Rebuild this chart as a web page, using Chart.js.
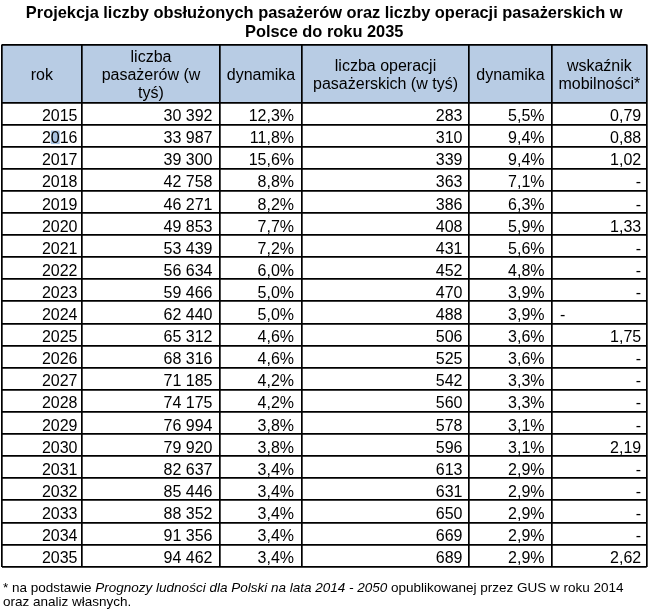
<!DOCTYPE html>
<html><head><meta charset="utf-8">
<script src="https://cdn.jsdelivr.net/npm/chart.js@4.4.1/dist/chart.umd.min.js"></script>
<style>
html,body{margin:0;padding:0;background:#fff;}
#wrap{position:relative;width:650px;height:613px;}
#foot{position:absolute;left:3px;top:581px;font:13.5px "Liberation Sans",Arial,sans-serif;line-height:14px;color:#000;white-space:nowrap;}
</style></head><body>
<div id="wrap"><canvas id="c" width="650" height="613"></canvas>
<div id="foot">* na podstawie <i>Prognozy ludności dla Polski na lata 2014 - 2050</i> opublikowanej przez GUS w roku 2014<br>oraz analiz własnych.</div></div>
<script>
// ---- data ----
const titleLines = ['Projekcja liczby obsłużonych pasażerów oraz liczby operacji pasażerskich w', 'Polsce do roku 2035'];
const headers = [['rok'], ['liczba', 'pasażerów (w', 'tyś)'], ['dynamika'], ['liczba operacji', 'pasażerskich (w tyś)'], ['dynamika'], ['wskaźnik', 'mobilności*']];
const years = [2015, 2016, 2017, 2018, 2019, 2020, 2021, 2022, 2023, 2024, 2025, 2026, 2027, 2028, 2029, 2030, 2031, 2032, 2033, 2034, 2035];
const passengers = [30392, 33987, 39300, 42758, 46271, 49853, 53439, 56634, 59466, 62440, 65312, 68316, 71185, 74175, 76994, 79920, 82637, 85446, 88352, 91356, 94462];
const passengerGrowth = [12.3, 11.8, 15.6, 8.8, 8.2, 7.7, 7.2, 6.0, 5.0, 5.0, 4.6, 4.6, 4.2, 4.2, 3.8, 3.8, 3.4, 3.4, 3.4, 3.4, 3.4];
const operations = [283, 310, 339, 363, 386, 408, 431, 452, 470, 488, 506, 525, 542, 560, 578, 596, 613, 631, 650, 669, 689];
const operationsGrowth = [5.5, 9.4, 9.4, 7.1, 6.3, 5.9, 5.6, 4.8, 3.9, 3.9, 3.6, 3.6, 3.3, 3.3, 3.1, 3.1, 2.9, 2.9, 2.9, 2.9, 2.9];
const mobility = [0.79, 0.88, 1.02, null, null, 1.33, null, null, null, null, 1.75, null, null, null, null, 2.19, null, null, null, null, 2.62];
const leftDashYears = [2024];

// ---- layout / style ----
const FONT = '"Liberation Sans", Arial, sans-serif';
const colWidths = [80.3, 138, 82, 167, 83, 94.7];
const colPad = [4.5, 7.5, 8, 6.5, 7.5, 5.5];
const HEADER_H = 58, ROW_H = 22.1;
const colEdges = [0]; colWidths.forEach(w => colEdges.push(colEdges[colEdges.length - 1] + w));
const rowEdges = [0, HEADER_H]; years.forEach(() => rowEdges.push(rowEdges[rowEdges.length - 1] + ROW_H));
const TABLE_W = colEdges[colEdges.length - 1], TABLE_H = rowEdges[rowEdges.length - 1];

const fmtInt = n => String(n).replace(/\B(?=(\d{3})+(?!\d))/g, ' ');
const fmtPct = v => v.toFixed(1).replace('.', ',') + '%';
const fmtMob = v => v == null ? '-' : v.toFixed(2).replace('.', ',');
const columns = [years.map(String), passengers.map(fmtInt), passengerGrowth.map(fmtPct), operations.map(fmtInt), operationsGrowth.map(fmtPct), mobility.map(fmtMob)];

const tablePlugin = {
  id: 'tablePlugin',
  beforeDraw(chart) {
    const {ctx, scales: {x, y}} = chart;
    ctx.save();
    ctx.fillStyle = '#b8cce4';
    const x0 = x.getPixelForValue(0), x1 = x.getPixelForValue(TABLE_W);
    const y0 = y.getPixelForValue(0), y1 = y.getPixelForValue(HEADER_H);
    ctx.fillRect(x0, y0, x1 - x0, y1 - y0);
    // selection artifact on the "0" of 2016
    ctx.font = '16px ' + FONT;
    const s = String(years[1]);
    const right = x.getPixelForValue(colEdges[1]) - colPad[0];
    const full = ctx.measureText(s).width;
    const a = ctx.measureText(s.slice(0, 1)).width, b = ctx.measureText(s.slice(0, 2)).width;
    const rb = y.getPixelForValue(rowEdges[3]);
    ctx.fillStyle = '#a9c3e3';
    ctx.fillRect(right - full + a, rb - 16, b - a, 13.5);
    ctx.restore();
  },
  afterDraw(chart) {
    const {ctx, scales: {x, y}} = chart;
    ctx.save();
    ctx.fillStyle = '#000';
    ctx.font = '16px ' + FONT;
    ctx.textBaseline = 'alphabetic';
    // header
    ctx.textAlign = 'center';
    const hc = (y.getPixelForValue(0) + y.getPixelForValue(HEADER_H)) / 2 + 1.5;
    headers.forEach((lines, c) => {
      const cx = (x.getPixelForValue(colEdges[c]) + x.getPixelForValue(colEdges[c + 1])) / 2;
      lines.forEach((t, i) => {
        const cy = hc + (i - (lines.length - 1) / 2) * 18.3;
        ctx.fillText(t, cx, cy + 5.3);
      });
    });
    // body
    years.forEach((yr, r) => {
      const base = y.getPixelForValue(rowEdges[r + 2]) - 3.4;
      columns.forEach((col, c) => {
        if (c === 5 && mobility[r] == null && leftDashYears.includes(yr)) {
          ctx.textAlign = 'left';
          ctx.fillText(col[r], x.getPixelForValue(colEdges[c]) + 8, base);
        } else {
          ctx.textAlign = 'right';
          ctx.fillText(col[r], x.getPixelForValue(colEdges[c + 1]) - colPad[c], base);
        }
      });
    });
    ctx.restore();
  }
};

new Chart(document.getElementById('c'), {
  type: 'scatter',
  data: {datasets: [{data: []}]},
  options: {
    responsive: false,
    animation: false,
    events: [],
    layout: {padding: {left: 1.7, right: 3.3, top: 0, bottom: 46.4}},
    plugins: {
      legend: {display: false},
      tooltip: {enabled: false},
      title: {display: true, text: titleLines, color: '#000', font: {family: FONT, size: 16.4, weight: 'bold', lineHeight: 1.17}, padding: {top: 4, bottom: 2}}
    },
    scales: {
      x: {
        type: 'linear', min: 0, max: TABLE_W,
        ticks: {display: false},
        grid: {drawTicks: false, color: '#000', lineWidth: 1.7},
        border: {display: false},
        afterBuildTicks: s => { s.ticks = colEdges.map(v => ({value: v})); }
      },
      y: {
        type: 'linear', min: 0, max: TABLE_H, reverse: true,
        ticks: {display: false},
        grid: {drawTicks: false, color: '#000', lineWidth: 1.7},
        border: {display: false},
        afterBuildTicks: s => { s.ticks = rowEdges.map(v => ({value: v})); }
      }
    }
  },
  plugins: [tablePlugin]
});
</script>
</body></html>
